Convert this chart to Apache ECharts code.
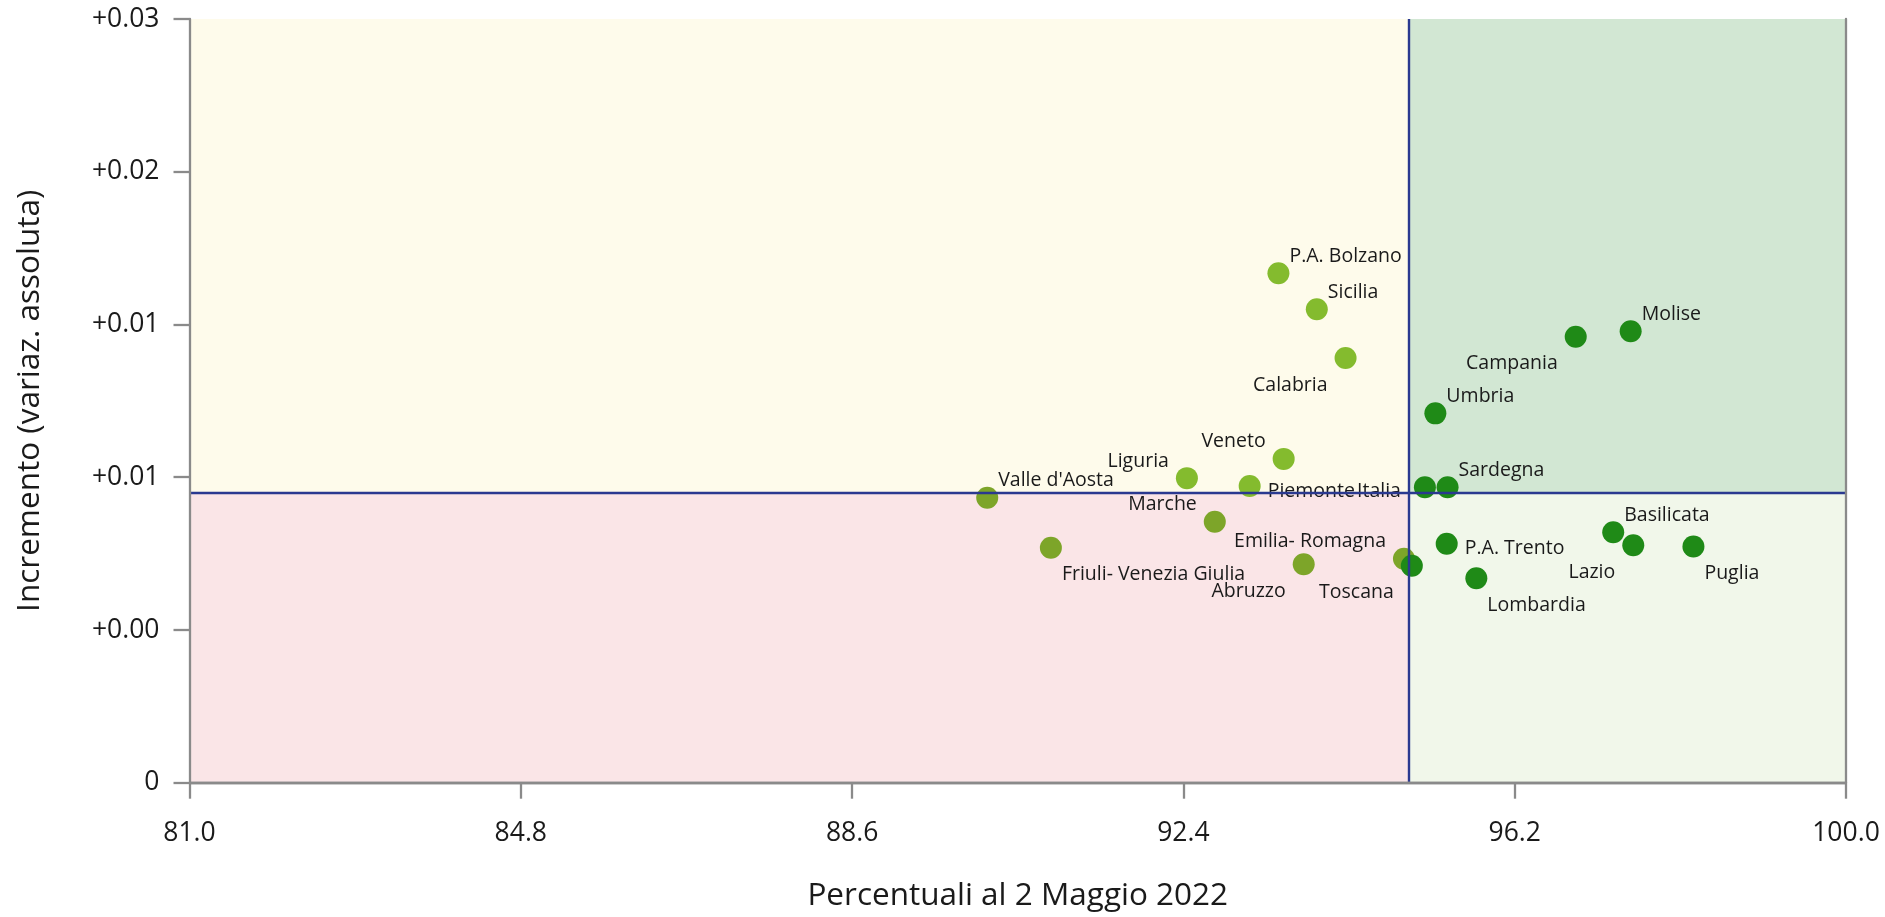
<!DOCTYPE html>
<html>
<head>
<meta charset="utf-8">
<script src="https://cdn.jsdelivr.net/npm/echarts@6/dist/echarts.min.js"></script>
<style>
  html, body { margin: 0; padding: 0; background: #ffffff; }
  #chart { width: 1885px; height: 917px; }
</style>
</head>
<body>
<div id="chart"></div>
<script>
// ---- data ----
const regions = ['P.A. Bolzano', 'Sicilia', 'Calabria', 'Veneto', 'Liguria', 'Piemonte', "Valle d'Aosta",
  'Marche', 'Friuli- Venezia Giulia', 'Abruzzo', 'Emilia- Romagna', 'Toscana', 'Molise', 'Campania',
  'Umbria', 'Italia', 'Sardegna', 'P.A. Trento', 'Lombardia', 'Basilicata', 'Lazio', 'Puglia'];
const percentuali = [93.49, 93.93, 94.26, 93.55, 92.44, 93.16, 90.15,
  92.76, 90.88, 93.78, 94.93, 95.02, 97.53, 96.90,
  95.29, 95.17, 95.43, 95.42, 95.76, 97.33, 97.56, 98.25];
const incremento = [0.01668, 0.01550, 0.01390, 0.01060, 0.00997, 0.00971, 0.00933,
  0.00854, 0.00769, 0.00715, 0.00733, 0.00710, 0.01478, 0.01460,
  0.01209, 0.00967, 0.00967, 0.00782, 0.00669, 0.00820, 0.00777, 0.00773];
const xThreshold = 94.98;
const yThreshold = 0.0095;
const xTicks = { min: 81, max: 100, step: 3.8 };
const yTicks = { min: 0, max: 0.025, step: 0.005 };
const yTickLabels = ['0', '+0.00', '+0.01', '+0.01', '+0.02', '+0.03'];

// ---- label placement (style) ----
const labelPlace = {
  'P.A. Bolzano': 'ur', 'Sicilia': 'ur', 'Calabria': 'bl', 'Veneto': 'ul', 'Liguria': 'ul',
  'Piemonte': 'r', "Valle d'Aosta": 'ur', 'Marche': 'ul', 'Friuli- Venezia Giulia': 'br',
  'Abruzzo': 'bl', 'Emilia- Romagna': 'ul', 'Toscana': 'bl', 'Molise': 'ur', 'Campania': 'bl',
  'Umbria': 'ur', 'Italia': 'l', 'Sardegna': 'ur', 'P.A. Trento': 'r', 'Lombardia': 'br',
  'Basilicata': 'ur', 'Lazio': 'bl', 'Puglia': 'br'
};
const SYM = 22;
const placeStyle = {
  ur: { align: 'left', d: [11, -17] },
  ul: { align: 'right', d: [-18, -17] },
  bl: { align: 'right', d: [-18, 27] },
  br: { align: 'left', d: [11, 27] },
  r:  { align: 'left', d: [18, 5] },
  l:  { align: 'right', d: [-24, 4] }
};
const colors = { right: '#1f8a17', topLeft: '#84bb2e', bottomLeft: '#7da529' };
const FONT = '"Open Sans", "Noto Sans", sans-serif';

const points = regions.map((name, i) => {
  const x = percentuali[i], y = incremento[i];
  const c = x > xThreshold ? colors.right : (y > yThreshold ? colors.topLeft : colors.bottomLeft);
  const p = placeStyle[labelPlace[name]];
  return {
    name: name,
    value: [x, y],
    itemStyle: { color: c },
    label: {
      show: true, formatter: name,
      position: [SYM / 2 + p.d[0], SYM / 2 + p.d[1]],
      align: p.align, verticalAlign: 'middle',
      color: '#1a1a1a', fontSize: 19.5, fontFamily: FONT, textBorderWidth: 0
    }
  };
});

const chart = echarts.init(document.getElementById('chart'), null, { renderer: 'canvas' });
const axisGray = '#8a8a8a';
chart.setOption({
  animation: false,
  backgroundColor: '#ffffff',
  grid: { left: 189.5, right: 39, top: 19, bottom: 134.3, containLabel: false },
  xAxis: [{
    type: 'value', min: xTicks.min, max: xTicks.max, interval: xTicks.step,
    name: 'Percentuali al 2 Maggio 2022', nameLocation: 'middle', nameGap: 97,
    nameTextStyle: { fontSize: 31.5, color: '#1a1a1a', fontFamily: FONT },
    axisLine: { show: true, lineStyle: { color: axisGray, width: 2.3 } },
    axisTick: { show: true, length: 16, lineStyle: { color: axisGray, width: 2.3 } },
    axisLabel: { fontSize: 26.5, color: '#1a1a1a', fontFamily: FONT, margin: 37,
      formatter: v => v.toFixed(1) },
    splitLine: { show: false }, z: 10
  }, {
    type: 'value', position: 'top', min: xTicks.min, max: xTicks.max, interval: xTicks.step,
    axisLine: { show: true, lineStyle: { color: axisGray, width: 2.3 } },
    axisTick: { show: false }, axisLabel: { show: false }, splitLine: { show: false }, z: 10
  }],
  yAxis: [{
    type: 'value', min: yTicks.min, max: yTicks.max, interval: yTicks.step,
    name: 'Incremento (variaz. assoluta)', nameLocation: 'middle', nameGap: 143,
    nameTextStyle: { fontSize: 31.5, color: '#1a1a1a', fontFamily: FONT },
    axisLine: { show: true, lineStyle: { color: axisGray, width: 2.3 } },
    axisTick: { show: true, length: 16, lineStyle: { color: axisGray, width: 2.3 } },
    axisLabel: { fontSize: 26.5, color: '#1a1a1a', fontFamily: FONT, margin: 30,
      formatter: v => yTickLabels[Math.round((v - yTicks.min) / yTicks.step)] },
    splitLine: { show: false }, z: 10
  }, {
    type: 'value', position: 'right', min: yTicks.min, max: yTicks.max, interval: yTicks.step,
    axisLine: { show: true, lineStyle: { color: axisGray, width: 2.3 } },
    axisTick: { show: false }, axisLabel: { show: false }, splitLine: { show: false }, z: 10
  }],
  series: [{
    type: 'scatter', data: [], z: 1, silent: true,
    markArea: {
      silent: true,
      label: { show: false },
      data: [
        [{ coord: [xTicks.min, yThreshold], itemStyle: { color: '#fefbeb' } }, { coord: [xThreshold, yTicks.max] }],
        [{ coord: [xTicks.min, yTicks.min], itemStyle: { color: '#fae5e7' } }, { coord: [xThreshold, yThreshold] }],
        [{ coord: [xThreshold, yThreshold], itemStyle: { color: '#d2e7d3' } }, { coord: [xTicks.max, yTicks.max] }],
        [{ coord: [xThreshold, yTicks.min], itemStyle: { color: '#f1f7ea' } }, { coord: [xTicks.max, yThreshold] }]
      ]
    }
  }, {
    type: 'scatter', z: 3, symbol: 'circle', symbolSize: SYM,
    itemStyle: { opacity: 1 },
    labelLayout: { hideOverlap: false },
    data: points
  }, {
    type: 'scatter', data: [], z: 5, silent: true,
    markLine: {
      silent: true, symbol: ['none', 'none'], label: { show: false }, precision: 8,
      lineStyle: { color: '#2a3990', width: 2.4, type: 'solid' },
      data: [
        [{ coord: [xThreshold, yTicks.min] }, { coord: [xThreshold, yTicks.max] }],
        [{ coord: [xTicks.min, yThreshold] }, { coord: [xTicks.max, yThreshold] }]
      ]
    }
  }]
});
</script>
</body>
</html>
